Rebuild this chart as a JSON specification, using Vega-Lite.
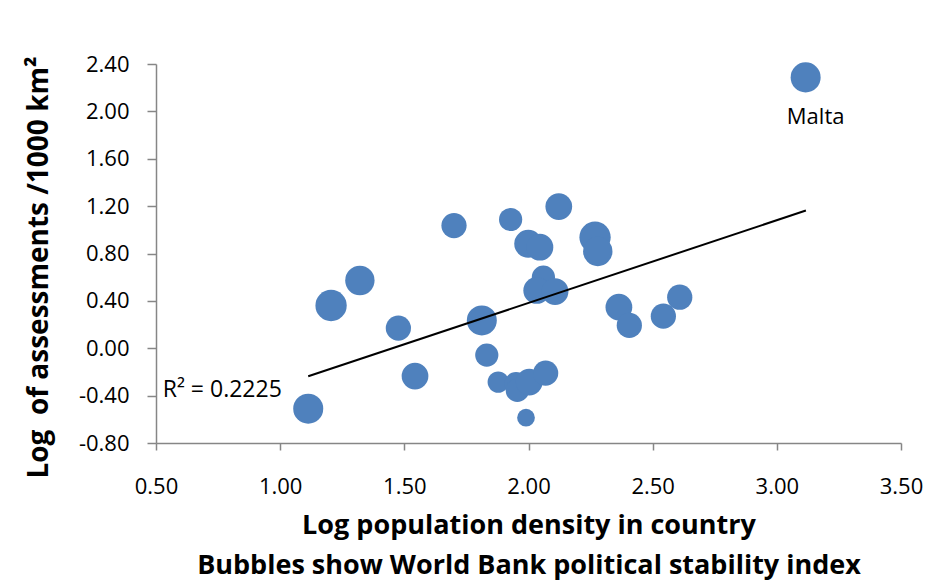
{
  "$schema": "https://vega.github.io/schema/vega-lite/v6.json",
  "width": 745,
  "height": 379,
  "autosize": {"type": "none"},
  "padding": {"left": 156, "top": 64, "right": 51, "bottom": 138},
  "background": "white",
  "config": {
    "view": {"stroke": null},
    "font": "Open Sans",
    "axis": {
      "grid": false,
      "domainColor": "#868686",
      "tickColor": "#868686",
      "domainWidth": 1.5,
      "tickWidth": 1.5,
      "labelColor": "#000000",
      "titleColor": "#000000",
      "labelFont": "Open Sans",
      "titleFont": "Open Sans",
      "labelFontSize": 22,
      "titleFontWeight": "bold"
    }
  },
  "datasets": {
    "countries": [
      {"country": "A", "density": 1.113, "assess": -0.510, "stability": 92},
      {"country": "B", "density": 1.205, "assess": 0.361, "stability": 100},
      {"country": "C", "density": 1.321, "assess": 0.572, "stability": 88},
      {"country": "D", "density": 1.476, "assess": 0.170, "stability": 65},
      {"country": "E", "density": 1.543, "assess": -0.235, "stability": 73},
      {"country": "F", "density": 1.700, "assess": 1.036, "stability": 65},
      {"country": "G", "density": 1.812, "assess": 0.235, "stability": 92},
      {"country": "H", "density": 1.832, "assess": -0.058, "stability": 55},
      {"country": "I", "density": 1.878, "assess": -0.286, "stability": 46},
      {"country": "J", "density": 1.950, "assess": -0.299, "stability": 55},
      {"country": "K", "density": 1.955, "assess": -0.356, "stability": 55},
      {"country": "L", "density": 2.003, "assess": -0.286, "stability": 73},
      {"country": "M", "density": 2.069, "assess": -0.210, "stability": 65},
      {"country": "N", "density": 1.990, "assess": -0.586, "stability": 32},
      {"country": "O", "density": 1.928, "assess": 1.087, "stability": 55},
      {"country": "P", "density": 1.999, "assess": 0.882, "stability": 80},
      {"country": "Q", "density": 2.046, "assess": 0.853, "stability": 73},
      {"country": "R", "density": 2.122, "assess": 1.196, "stability": 73},
      {"country": "S", "density": 2.060, "assess": 0.600, "stability": 55},
      {"country": "T", "density": 2.033, "assess": 0.488, "stability": 73},
      {"country": "U", "density": 2.107, "assess": 0.479, "stability": 73},
      {"country": "V", "density": 2.268, "assess": 0.937, "stability": 100},
      {"country": "W", "density": 2.279, "assess": 0.817, "stability": 88},
      {"country": "X", "density": 2.364, "assess": 0.347, "stability": 73},
      {"country": "Y", "density": 2.406, "assess": 0.193, "stability": 65},
      {"country": "Z", "density": 2.543, "assess": 0.271, "stability": 65},
      {"country": "AA", "density": 2.609, "assess": 0.431, "stability": 65},
      {"country": "Malta", "density": 3.116, "assess": 2.287, "stability": 92}
    ],
    "trend": [
      {"density": 1.113, "assess": -0.237},
      {"density": 3.117, "assess": 1.163}
    ],
    "notes": [
      {"density": 0.527, "assess": -0.355, "label": "R² = 0.2225"}
    ]
  },
  "layer": [
    {
      "data": {"name": "countries"},
      "mark": {"type": "circle", "color": "#4F81BD", "opacity": 1},
      "encoding": {
        "x": {
          "field": "density",
          "type": "quantitative",
          "scale": {"domain": [0.5, 3.5], "nice": false, "zero": false},
          "axis": {
            "values": [0.5, 1, 1.5, 2, 2.5, 3, 3.5],
            "format": ".2f",
            "tickSize": 7,
            "labelPadding": 26,
            "labelFlush": false,
            "title": ["Log population density in country", "Bubbles show World Bank political stability index"],
            "titleFontSize": 27,
            "titleLineHeight": 40,
            "titlePadding": 15
          }
        },
        "y": {
          "field": "assess",
          "type": "quantitative",
          "scale": {"domain": [-0.8, 2.4], "nice": false, "zero": false},
          "axis": {
            "values": [-0.8, -0.4, 0, 0.4, 0.8, 1.2, 1.6, 2.0, 2.4],
            "labelExpr": "replace(format(datum.value, '.2f'), '\u2212', '-')",
            "tickSize": 9,
            "labelPadding": 18,
            "labelFlush": false,
            "title": "Log\u00a0 of assessments /1000 km²",
            "titleFontSize": 28,
            "titleY": 203,
            "titlePadding": 25
          }
        },
        "size": {
          "field": "stability",
          "type": "quantitative",
          "scale": {"type": "linear", "domain": [0, 100], "range": [0, 980], "zero": true},
          "legend": null
        }
      }
    },
    {
      "data": {"name": "trend"},
      "mark": {"type": "line", "color": "#000000", "strokeWidth": 2},
      "encoding": {
        "x": {"field": "density", "type": "quantitative"},
        "y": {"field": "assess", "type": "quantitative"}
      }
    },
    {
      "data": {"name": "countries"},
      "transform": [{"filter": "datum.country === 'Malta'"}],
      "mark": {"type": "text", "fontSize": 22, "dx": 10, "dy": 40, "color": "#000000", "font": "Open Sans"},
      "encoding": {
        "x": {"field": "density", "type": "quantitative"},
        "y": {"field": "assess", "type": "quantitative"},
        "text": {"field": "country"}
      }
    },
    {
      "data": {"name": "notes"},
      "mark": {"type": "text", "fontSize": 23, "align": "left", "baseline": "middle", "color": "#000000", "font": "Open Sans"},
      "encoding": {
        "x": {"field": "density", "type": "quantitative"},
        "y": {"field": "assess", "type": "quantitative"},
        "text": {"field": "label"}
      }
    }
  ]
}
